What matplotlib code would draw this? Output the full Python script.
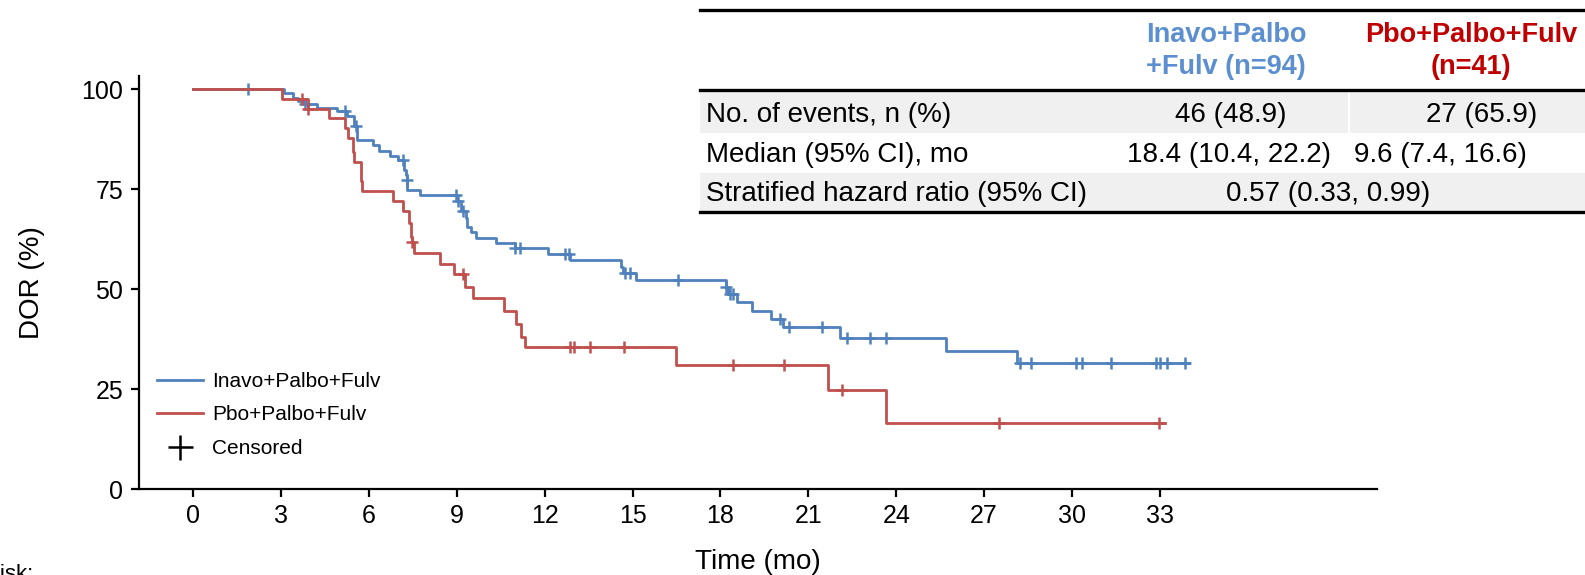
import numpy as np
import matplotlib
matplotlib.use("Agg")
import matplotlib.pyplot as plt
from matplotlib.lines import Line2D
from matplotlib.patches import Rectangle

plt.rcParams['font.family'] = ['Liberation Sans', 'DejaVu Sans']

BLUE = '#4f81bd'
RED = '#c0504d'
HEAD_BLUE = '#5b8fd0'
HEAD_RED = '#c00000'

# Inavo+Palbo+Fulv: event times (mo) and survival (%) after each step
blue_t = [3.11, 3.42, 3.59, 3.82, 4.22, 4.90, 5.24, 5.49, 5.58, 6.15, 6.35, 6.72,
          7.00, 7.20, 7.26, 7.29, 7.32, 7.76, 9.02, 9.16, 9.31, 9.36, 9.50, 9.67,
          10.33, 10.98, 12.12, 12.88, 14.59, 14.68, 15.11, 18.18, 18.25, 18.57,
          19.09, 19.74, 20.14, 22.07, 25.69, 28.13]
blue_s = [99.0, 97.9, 97.0, 96.2, 95.4, 94.5, 93.4, 90.9, 87.2, 86.0, 84.5, 83.4,
          82.3, 79.8, 78.5, 77.3, 74.8, 73.6, 72.1, 69.6, 67.7, 65.6, 64.4, 62.9,
          61.6, 60.2, 58.7, 57.3, 55.6, 54.0, 52.3, 50.5, 48.8, 46.7,
          44.5, 42.5, 40.5, 37.7, 34.6, 31.5]
blue_end = 34.0
blue_cens = [1.86, 3.82, 5.20, 5.55, 7.15, 7.30, 8.97, 9.05, 9.20, 11.00, 11.15,
             12.69, 12.84, 14.74, 14.91, 16.55, 18.20, 18.32, 18.43, 20.02, 20.34,
             21.48, 22.33, 23.10, 23.66, 28.24, 28.61, 30.15, 30.34, 31.32, 32.85,
             33.01, 33.24, 33.84]

# Pbo+Palbo+Fulv
red_t = [3.04, 3.91, 4.64, 5.18, 5.30, 5.47, 5.50, 5.72, 5.77, 6.84, 7.17, 7.37,
         7.43, 7.46, 7.54, 8.42, 8.92, 9.29, 9.54, 10.61, 11.04, 11.19, 11.32,
         16.50, 21.68, 23.66]
red_s = [97.6, 95.1, 92.7, 90.2, 87.8, 84.4, 81.7, 77.0, 74.6, 72.1, 69.5, 66.5,
         63.1, 61.9, 59.0, 56.3, 53.7, 50.6, 47.7, 44.5, 41.3, 38.1, 35.5,
         31.0, 24.8, 16.6]
red_end = 33.16
red_cens = [3.73, 3.93, 7.49, 9.22, 12.88, 13.00, 13.54, 14.71, 18.43, 20.17,
            22.15, 27.50, 32.96]

xticks = list(range(0, 34, 3))
yticks = [0, 25, 50, 75, 100]

row_labels = ['No. of events, n (%)', 'Median (95% CI), mo',
              'Stratified hazard ratio (95% CI)']
col_heads = ['Inavo+Palbo\n+Fulv (n=94)', 'Pbo+Palbo+Fulv\n(n=41)']
blue_vals = ['46 (48.9)', '18.4 (10.4, 22.2)']
red_vals = ['27 (65.9)', '9.6 (7.4, 16.6)']
hr_val = '0.57 (0.33, 0.99)'


def km_curve(t, s, end):
    xs = np.concatenate([[0], t, [end]])
    ys = np.concatenate([[100], s, [s[-1]]])
    return xs, ys


def cens_y(t, s, c):
    xs = np.concatenate([[0], t])
    ys = np.concatenate([[100], s])
    idx = np.searchsorted(xs, c, side='right') - 1
    return ys[idx]


fig = plt.figure(figsize=(15.85, 5.75), dpi=100)
ax = fig.add_axes([0.0874, 0.1492, 0.7812, 0.7188])

for t, s, end, cens, col in [(blue_t, blue_s, blue_end, blue_cens, BLUE),
                             (red_t, red_s, red_end, red_cens, RED)]:
    xs, ys = km_curve(t, s, end)
    ax.step(xs, ys, where='post', color=col, lw=2.0)
    ax.plot(cens, cens_y(t, s, np.array(cens)), ls='none', marker='+',
            ms=9, mew=1.8, color=col)

ax.set_xlim(-1.86, 40.4)
ax.set_ylim(0, 103.3)
ax.set_xticks(xticks)
ax.set_yticks(yticks)
ax.spines['top'].set_visible(False)
ax.spines['right'].set_visible(False)
for sp in ['left', 'bottom']:
    ax.spines[sp].set_linewidth(1.6)
ax.tick_params(axis='both', labelsize=18, length=6, width=1.6, pad=5)
ax.set_xlabel('Time (mo)', fontsize=20, labelpad=15)
ax.set_ylabel('DOR (%)', fontsize=20, labelpad=26)

handles = [Line2D([], [], color=BLUE, lw=2.0),
           Line2D([], [], color=RED, lw=2.0),
           Line2D([], [], color='black', ls='none', marker='+', ms=18, mew=1.8)]
ax.legend(handles, ['Inavo+Palbo+Fulv', 'Pbo+Palbo+Fulv', 'Censored'],
          loc='lower left', bbox_to_anchor=(0.0, 0.03), frameon=False,
          fontsize=15, handlelength=2.2, handletextpad=0.45, labelspacing=0.7)

fig.text(33 / 1585, 0.0, 'No. at risk:', ha='right', va='center', fontsize=16)

# table drawn in pixel coordinates on an overlay
tab = fig.add_axes([0, 0, 1, 1], zorder=5)
tab.set_xlim(0, 1585)
tab.set_ylim(575, 0)
tab.axis('off')
tab.patch.set_alpha(0)

tab.add_patch(Rectangle((700, 91), 885, 42, color='#f0f0f0', lw=0))
tab.add_patch(Rectangle((700, 173), 885, 39, color='#f0f0f0', lw=0))
tab.plot([1349, 1349], [91, 133], color='white', lw=1.5)
for y in [10, 90, 212]:
    tab.plot([700, 1585], [y, y], color='black', lw=2.4)

tab.text(1226, 51, col_heads[0], ha='center', va='center', fontsize=19.5,
         fontweight='bold', color=HEAD_BLUE, linespacing=1.25)
tab.text(1471, 51, col_heads[1], ha='center', va='center', fontsize=19.5,
         fontweight='bold', color=HEAD_RED, linespacing=1.25)

row_y = [115, 155, 194]
for y, lab in zip(row_y, row_labels):
    tab.text(706, y, lab, ha='left', va='center', fontsize=20)
tab.text(1231, row_y[0], blue_vals[0], ha='center', va='center', fontsize=20)
tab.text(1229, row_y[1], blue_vals[1], ha='center', va='center', fontsize=20)
tab.text(1482, row_y[0], red_vals[0], ha='center', va='center', fontsize=20)
tab.text(1440, row_y[1], red_vals[1], ha='center', va='center', fontsize=20)
tab.text(1328, row_y[2], hr_val, ha='center', va='center', fontsize=20)

fig.savefig('out.png', dpi=100)
